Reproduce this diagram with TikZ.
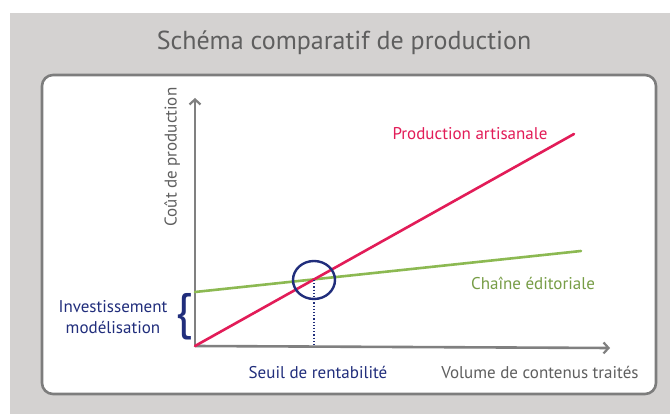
\documentclass[tikz,border=0pt]{standalone}
\usepackage{fontspec}
\setmainfont{PT Sans}
\usetikzlibrary{arrows.meta,shapes.geometric}
\definecolor{fond}{RGB}{212,210,209}
\definecolor{cadre}{RGB}{125,125,125}
\definecolor{axe}{RGB}{128,128,128}
\definecolor{texte}{RGB}{95,95,95}
\definecolor{artisan}{RGB}{226,28,88}
\definecolor{chaine}{RGB}{140,185,82}
\definecolor{seuil}{RGB}{33,46,124}
\begin{document}
\begin{tikzpicture}[x=1pt,y=-1pt,
		axis/.style={draw=axe,line width=2.6pt,-{Straight Barb[length=5pt,width=11pt,line width=2.2pt]}},
		courbe/.style={line width=2.6pt,line cap=round},
		legende/.style={font=\fontsize{17}{19}\selectfont,inner sep=0pt}]
		\useasboundingbox (0,0) rectangle (670,414);
		% Fond
		\fill[fond] (10,13) rectangle (670,414);
		\draw[cadre,line width=2.6pt,fill=white,rounded corners=11pt] (42,75) rectangle (656,394);
		\node (titre) at (344,43) [text=texte,font=\fontsize{26}{26}\selectfont] {Schéma comparatif de production};

		% Axes
		\coordinate (O) at (195,346);
		\coordinate (xmax) at (610,348);
		\coordinate (ymax) at (195,98);
		\draw[axis] (O) -- (xmax);
		\draw[axis] (O) -- (ymax);

		% Courbes
		\coordinate (A0) at (195,346);
		\coordinate (A1) at (574,134);
		\coordinate (C0) at (195,292);
		\coordinate (C1) at (581,251);
		\draw[courbe,chaine] (C0) -- (C1);
		\draw[courbe,artisan] (A0) -- (A1);

		% Seuil
		\node (cercle) at (314,280) [ellipse,draw=seuil,line width=2.4pt,minimum width=42pt,minimum height=38pt,inner sep=0pt] {};
		\draw[seuil,line width=1.2pt,dotted] (cercle.center) -- (cercle.center |- O);

		% Textes
		\node (ycout) at (172,157) [legende,text=texte,rotate=90] {Coût de production};
		\node (xvol) at (540,372) [legende,text=texte] {Volume de contenus traités};
		\node (lseuil) at (318,372) [legende,text=seuil] {Seuil de rentabilité};
		\node (lartisan) at (470,134) [legende,text=artisan] {Production artisanale};
		\node (lchaine) at (533,283) [legende,text=chaine!85!black] {Chaîne éditoriale};
		\node (invest) at (113,317) [legende,text=seuil,align=center,font=\fontsize{17}{21}\selectfont] {Investissement\\modélisation};
		\node (accolade) at (184,317) [text=seuil,inner sep=0pt,font=\fontsize{50}{50}\selectfont] {\{};
	\end{tikzpicture}
\end{document}
